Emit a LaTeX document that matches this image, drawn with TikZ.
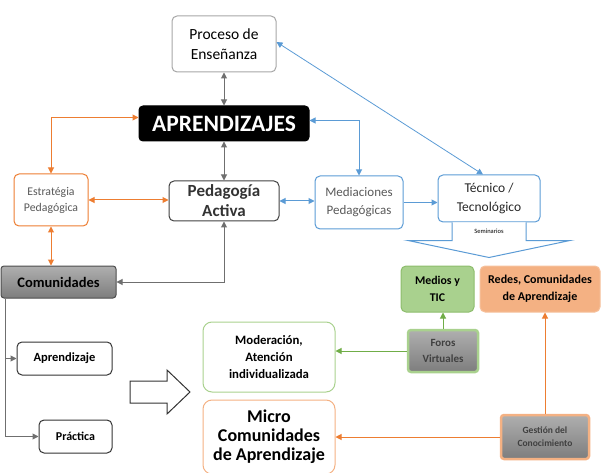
\documentclass[tikz,border=0pt]{standalone}
\usepackage{fontspec}
\setmainfont{Carlito}
\usepackage{tikz}
\usetikzlibrary{%
arrows.meta,%
calc,%
shadings,%
backgrounds}

\definecolor{naranja}{HTML}{ED7D31}
\definecolor{salmon}{HTML}{F4B183}
\definecolor{azul}{HTML}{5B9BD5}
\definecolor{verde}{HTML}{70AD47}
\definecolor{verdeclaro}{HTML}{A9D18E}
\definecolor{gris}{HTML}{6F6F6F}
\definecolor{grisclaro}{HTML}{A6A6A6}
\definecolor{texto}{HTML}{595959}

\tikzset{
  caja/.style={draw, rounded corners=5pt, align=center, line width=1pt, inner sep=2pt},
  oscura/.style={caja, rounded corners=3pt, top color=grisclaro!90, bottom color=gris!90},
  flecha/.style={line width=1pt, -{Triangle[width=6pt,length=6pt]}},
  dflecha/.style={line width=1pt, {Triangle[width=6pt,length=6pt]}-{Triangle[width=6pt,length=6pt]}},
}

\begin{document}
\begin{tikzpicture}[x=1pt,y=-1pt]
\useasboundingbox (0,0) rectangle (613,473);

% fila de arriba
\node[caja, draw=grisclaro, minimum width=104, minimum height=56,
  font=\fontsize{15.5}{20}\selectfont] (pro) at (224,44) {Proceso de\\Enseñanza};
\node[caja, fill=black, text=white, rounded corners=4pt, minimum width=170, minimum height=35,
  font=\fontsize{23.5}{25}\selectfont\bfseries] (apr) at (224,123.5) {APRENDIZAJES};

% fila del medio
\node[caja, draw=naranja, text=texto, minimum width=74, minimum height=52,
  font=\fontsize{11.8}{16}\selectfont] (est) at (51,200) {Estratégia\\Pedagógica};
\node[caja, draw=black!75, text=black!80, minimum width=110, minimum height=40,
  font=\fontsize{17}{20}\selectfont\bfseries] (ped) at (224,201) {Pedagogía\\Activa};
\node[caja, draw=azul, text=texto, minimum width=88, minimum height=53,
  font=\fontsize{13}{18}\selectfont] (med) at (359,202.5) {Mediaciones\\Pedagógicas};
\node[caja, draw=azul, text=black!85, minimum width=102, minimum height=47,
  font=\fontsize{13.5}{19}\selectfont] (tec) at (489,198.5) {Técnico /\\Tecnológico};

% izquierda
\node[oscura, draw=black!70, minimum width=115, minimum height=32,
  font=\fontsize{14.5}{16}\selectfont\bfseries] (com) at (58.5,282) {Comunidades};
\node[caja, draw=black!80, minimum width=95, minimum height=33,
  font=\fontsize{12.5}{14}\selectfont\bfseries] (apz) at (64.5,358.5) {Aprendizaje};
\node[caja, draw=black!80, minimum width=73, minimum height=33,
  font=\fontsize{12}{14}\selectfont\bfseries] (pra) at (75.5,436.5) {Práctica};

% abajo al centro
\node[caja, draw=verdeclaro, rounded corners=9pt, minimum width=132, minimum height=70,
  font=\fontsize{12.8}{17}\selectfont\bfseries] (mod) at (269,357) {Moderación,\\Atención\\individualizada};
\node[caja, draw=salmon, rounded corners=9pt, minimum width=132, minimum height=74,
  font=\fontsize{18}{19}\selectfont\bfseries] (mic) at (269,437) {Micro\\Comunidades\\de Aprendizaje};

% derecha
\node[caja, draw=verde!80, fill=verdeclaro, minimum width=73, minimum height=46,
  font=\fontsize{11.8}{17}\selectfont\bfseries] (tic) at (437.5,289) {Medios y\\TIC};
\node[caja, draw=salmon!80, fill=salmon, minimum width=120, minimum height=46,
  font=\fontsize{12}{17}\selectfont\bfseries] (red) at (540,289) {Redes, Comunidades\\de Aprendizaje};
\node[oscura, draw=verdeclaro, line width=2.5pt, minimum width=70, minimum height=42,
  text=black!75, font=\fontsize{11}{16}\selectfont\bfseries] (for) at (443,351) {Foros\\Virtuales};
\node[oscura, draw=salmon, line width=2.5pt, minimum width=88, minimum height=44,
  text=black!75, font=\fontsize{9.5}{13}\selectfont\bfseries] (ges) at (545,437) {Gestión del\\Conocimiento};

% flechas
\draw[dflecha,gris] (pro.south) -- (apr.north);
\draw[dflecha,gris] (apr.south) -- (ped.north);
\draw[dflecha,naranja] (est.north) |- ([yshift=6pt]apr.west);
\draw[dflecha,naranja] (est.east) -- (est.east -| ped.west);
\draw[dflecha,naranja] (est.south) -- (est.south |- com.north);
\draw[dflecha,azul] (ped.east) -- (ped.east -| med.west);
\draw[dflecha,azul] (med.north) |- ([yshift=3pt]apr.east);
\draw[flecha,azul] (med.east) -- (med.east -| tec.west);
\draw[dflecha,azul,line width=0.8pt] ([xshift=-6pt]tec.north) -- ([yshift=2pt]pro.east);
\draw[dflecha,gris] (ped.south) |- (com.east);
\coordinate (tronco) at ([xshift=5pt]com.south west);
\draw[flecha,gris] (tronco) |- (apz.west);
\draw[flecha,gris] (tronco) |- (pra.west);
\draw[flecha,verde] (for.north) -- (for.north |- tic.south);
\draw[flecha,verde] (for.west) -- (for.west -| mod.east);
\draw[flecha,naranja] (ges.north) -- (ges.north |- red.south);
\draw[flecha,naranja] (ges.west) -- (ges.west -| mic.east);

% flechas de bloque
\draw[azul, fill=white, line width=1pt] ([xshift=-37pt]tec.south) -- ++(0,18) -- ++(-44,0)
  -- ++(81,17) -- ++(81,-17) -- ++(-44,0) -- ++(0,-18);
\node[font=\fontsize{6.5}{7}\selectfont] (sem) at ([yshift=-9pt]tec.south) {Seminarios};
\draw[black!80, line width=1pt] (130,381) -- (167,381) -- (167,370) -- (190,392)
  -- (167,414) -- (167,403) -- (130,403) -- cycle;
\end{tikzpicture}
\end{document}
